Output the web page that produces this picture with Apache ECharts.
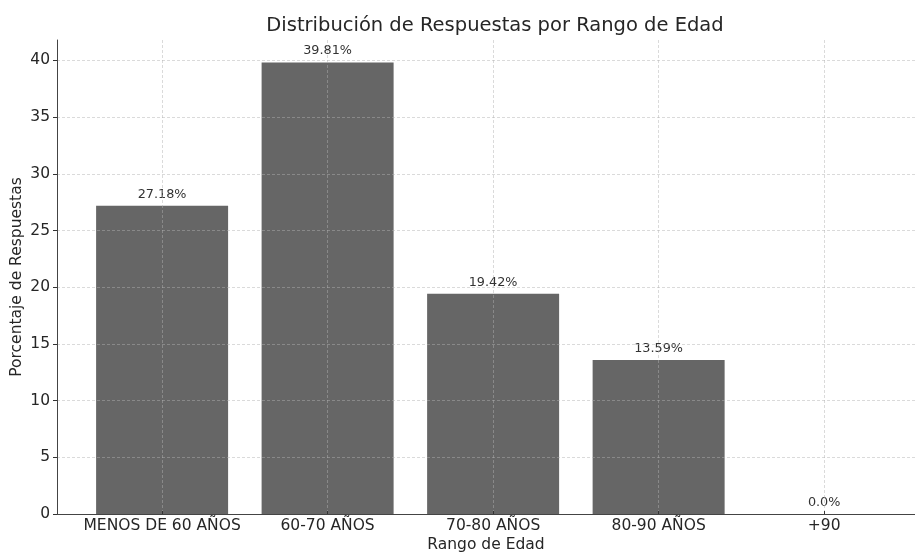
<!DOCTYPE html>
<html>
<head>
<meta charset="utf-8">
<script src="https://cdn.jsdelivr.net/npm/echarts@6/dist/echarts.min.js"></script>
<style>html,body{margin:0;padding:0;background:#fff}#c{width:915px;height:555px}</style>
</head>
<body>
<div id="c"></div>
<script>
const categories = ['MENOS DE 60 AÑOS', '60-70 AÑOS', '70-80 AÑOS', '80-90 AÑOS', '+90'];
const values = [27.18, 39.81, 19.42, 13.59, 0];
const yTicks = [0, 5, 10, 15, 20, 25, 30, 35, 40];
const titleText = 'Distribución de Respuestas por Rango de Edad';
const xName = 'Rango de Edad';
const yName = 'Porcentaje de Respuestas';

const positions = categories.map((c, i) => i);
const labelText = v => (Number.isInteger(v) ? v.toFixed(1) : String(v)) + '%';
const font = 'DejaVu Sans';
const gridLine = { show: true, lineStyle: { color: 'rgba(176,176,176,0.6)', type: [3, 2], width: 0.8 } };

const chart = echarts.init(document.getElementById('c'), null, { renderer: 'canvas' });
chart.setOption({
  animation: false,
  backgroundColor: '#fff',
  textStyle: { fontFamily: font },
  title: {
    text: titleText, left: 490, top: 11, textAlign: 'center',
    textStyle: { fontFamily: font, fontSize: 19.5, fontWeight: 'normal', color: '#262626' }
  },
  grid: { left: 57, right: 0, top: 40, bottom: 41, containLabel: false, outerBoundsMode: 'none' },
  xAxis: {
    type: 'value', min: -0.635, max: 4.549, z: 3,
    name: xName, nameLocation: 'middle', nameGap: 23, nameMoveOverlap: false,
    nameTextStyle: { fontFamily: font, fontSize: 15.5, color: '#262626' },
    axisLine: { show: true, onZero: false, lineStyle: { color: '#444', width: 1 } },
    axisTick: { show: true, inside: true, length: 3, customValues: positions, lineStyle: { color: '#333' } },
    axisLabel: { customValues: positions, formatter: v => categories[Math.round(v)] || '', fontSize: 15.5, color: '#262626', margin: 4, fontFamily: font },
    splitLine: gridLine
  },
  yAxis: {
    type: 'value', min: 0, max: 41.8, z: 3,
    name: yName, nameLocation: 'middle', nameGap: 32, nameMoveOverlap: false,
    nameTextStyle: { fontFamily: font, fontSize: 15.5, color: '#262626' },
    axisLine: { show: true, onZero: false, lineStyle: { color: '#444', width: 1 } },
    axisTick: { show: true, length: 4, customValues: yTicks, lineStyle: { color: '#333' } },
    axisLabel: { customValues: yTicks, fontSize: 15.5, color: '#262626', margin: 7, fontFamily: font },
    splitLine: gridLine
  },
  series: [{
    type: 'bar',
    data: values.map((v, i) => [positions[i], v]),
    barWidth: 132,
    itemStyle: { color: '#666666' },
    label: {
      show: true, position: 'top', distance: 5,
      formatter: p => labelText(p.value[1]),
      fontSize: 12.8, color: '#333', fontFamily: font
    }
  }]
});
</script>
</body>
</html>
